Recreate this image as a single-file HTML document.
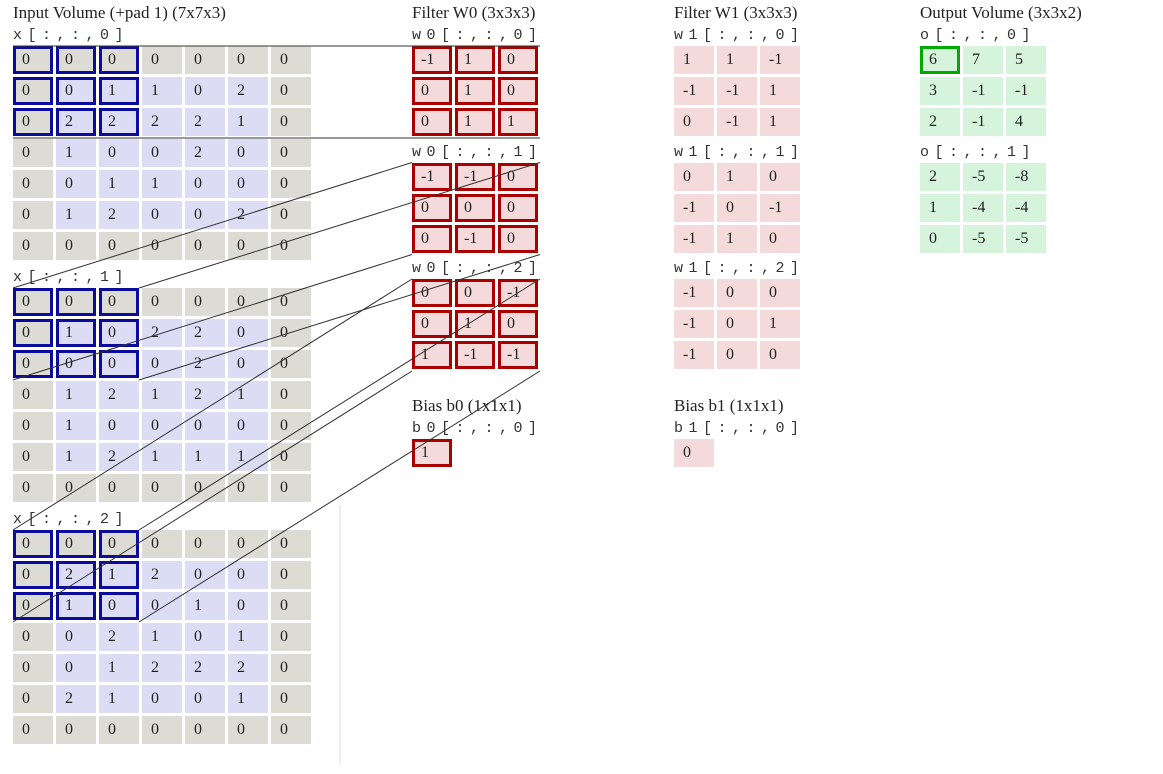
<!DOCTYPE html>
<html><head><meta charset="utf-8"><style>
body{margin:0;width:1163px;height:774px;background:#fff;position:relative;overflow:hidden;font-family:"Liberation Serif",serif;}
.t{position:absolute;font-size:17px;color:#222;line-height:20px;white-space:nowrap}
.l{position:absolute;font-family:"Liberation Mono",monospace;font-size:15px;color:#333;line-height:16px;white-space:nowrap;letter-spacing:5.5px}
.c{position:absolute;width:40px;height:28px;box-sizing:border-box;font-size:16px;color:#222;line-height:28px;padding-left:9px}
.hb{border:3px solid #0c0c9c;line-height:22px;padding-left:6px}
.hr{border:3px solid #a00;line-height:22px;padding-left:6px}
.hg{border:3px solid #0a0;line-height:22px;padding-left:6px}
svg{position:absolute;left:0;top:0;z-index:5}
</style></head><body>
<svg id="lines" width="1163" height="774"></svg>
<script>
const x0=[[0,0,0,0,0,0,0],[0,0,1,1,0,2,0],[0,2,2,2,2,1,0],[0,1,0,0,2,0,0],[0,0,1,1,0,0,0],[0,1,2,0,0,2,0],[0,0,0,0,0,0,0]];
const x1=[[0,0,0,0,0,0,0],[0,1,0,2,2,0,0],[0,0,0,0,2,0,0],[0,1,2,1,2,1,0],[0,1,0,0,0,0,0],[0,1,2,1,1,1,0],[0,0,0,0,0,0,0]];
const x2=[[0,0,0,0,0,0,0],[0,2,1,2,0,0,0],[0,1,0,0,1,0,0],[0,0,2,1,0,1,0],[0,0,1,2,2,2,0],[0,2,1,0,0,1,0],[0,0,0,0,0,0,0]];
const w0=[[[-1,1,0],[0,1,0],[0,1,1]],[[-1,-1,0],[0,0,0],[0,-1,0]],[[0,0,-1],[0,1,0],[1,-1,-1]]];
const w1=[[[1,1,-1],[-1,-1,1],[0,-1,1]],[[0,1,0],[-1,0,-1],[-1,1,0]],[[-1,0,0],[-1,0,1],[-1,0,0]]];
const b0=[1], b1=[0];
const o0=[[6,7,5],[3,-1,-1],[2,-1,4]];
const o1=[[2,-5,-8],[1,-4,-4],[0,-5,-5]];
const root=document.body;
function txt(cls,x,y,s,name){const d=document.createElement('div');d.className=cls;d.style.left=x+'px';d.style.top=y+'px';d.textContent=s;


root.appendChild(d);}
function grid(m,x,y,name,bgFn,hlFn){m.forEach((row,r)=>row.forEach((v,c)=>{const d=document.createElement('div');
d.className='c '+(hlFn(r,c)||'');d.style.left=(x+c*43)+'px';d.style.top=(y+r*31)+'px';d.style.background=bgFn(r,c);d.textContent=v;


root.appendChild(d);}));}
const pad=(r,c,n)=> (r==0||c==0||r==n-1||c==n-1)?'#dcdcd4':'#dcdcf4';
txt('t',13,3,'Input Volume (+pad 1) (7x7x3)','input-title');
txt('t',412,3,'Filter W0 (3x3x3)','filter-w0-title');
txt('t',674,3,'Filter W1 (3x3x3)','filter-w1-title');
txt('t',920,3,'Output Volume (3x3x2)','output-title');
const xs=[x0,x1,x2];
xs.forEach((m,k)=>{const y=46+k*242;
txt('l',13,y-18,'x[:,:,'+k+']','input-slice-label');
grid(m,13,y,'input-'+k,(r,c)=>pad(r,c,7),(r,c)=>(r<3&&c<3)?'hb':'');});
[w0,w1].forEach((w,f)=>{w.forEach((m,k)=>{const y=46+k*116.5;const x=f?674:412;
txt('l',x,y-18,'w'+f+'[:,:,'+k+']','filter-slice-label');
grid(m,x,y,'filter-w'+f+'-'+k,()=>'#f4dada',()=>f?'':'hr');});});
txt('t',412,396,'Bias b0 (1x1x1)','bias-b0-title');
txt('t',674,396,'Bias b1 (1x1x1)','bias-b1-title');
txt('l',412,421,'b0[:,:,0]','bias-b0-label');
txt('l',674,421,'b1[:,:,0]','bias-b1-label');
grid([b0],412,439,'bias-b0',()=>'#f4dada',()=>'hr');
grid([b1],674,439,'bias-b1',()=>'#f4dada',()=>'');
[o0,o1].forEach((m,k)=>{const y=46+k*116.5;
txt('l',920,y-18,'o[:,:,'+k+']','output-slice-label');
grid(m,920,y,'output-'+k,()=>'#d6f4dc',(r,c)=>(k==0&&r==0&&c==0)?'hg':'');});
const svg=document.getElementById('lines');
function line(a,b,c,d,col){const l=document.createElementNS('http://www.w3.org/2000/svg','line');
l.setAttribute('x1',a);l.setAttribute('y1',b);l.setAttribute('x2',c);l.setAttribute('y2',d);
l.setAttribute('stroke',col||'#333');l.setAttribute('stroke-width','1');


svg.appendChild(l);}
for(let k=0;k<3;k++){const iy=46+k*242, fy=46+k*116.5;
line(13,iy,412,fy);line(139,iy,540,fy);line(13,iy+92,412,fy+92);line(139,iy+92,540,fy+92);}
line(340,505,340,765,'#ddd');
</script>
</body></html>
